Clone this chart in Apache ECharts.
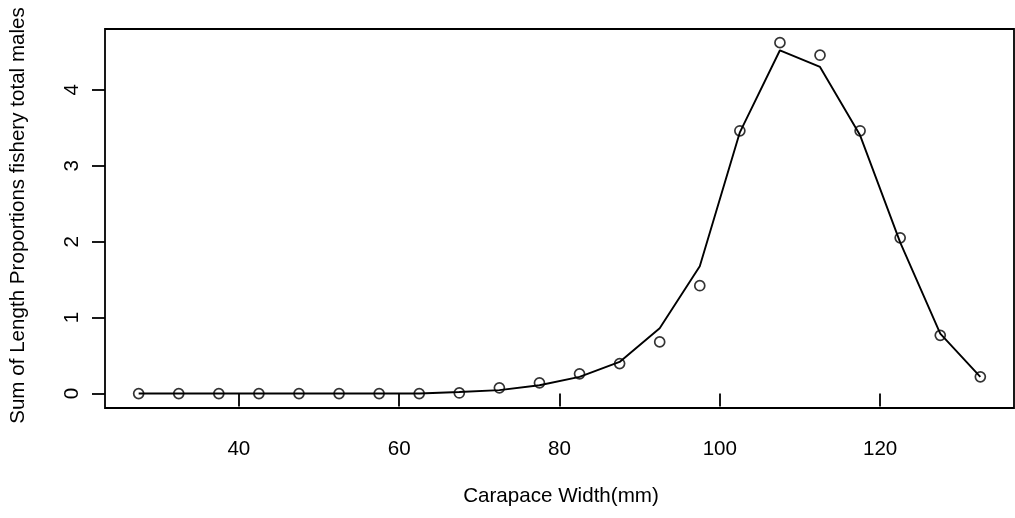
<!DOCTYPE html>
<html>
<head>
<meta charset="utf-8">
<script src="https://cdn.jsdelivr.net/npm/echarts@6/dist/echarts.min.js"></script>
<style>
html,body{margin:0;padding:0;background:#fff;}
#chart{width:1015px;height:518px;}
</style>
</head>
<body>
<div id="chart"></div>
<script>
// Carapace width bins (mm)
var widths = [27.5, 32.5, 37.5, 42.5, 47.5, 52.5, 57.5, 62.5, 67.5, 72.5, 77.5,
              82.5, 87.5, 92.5, 97.5, 102.5, 107.5, 112.5, 117.5, 122.5, 127.5, 132.5];
// Observed (circles)
var observed = [0, 0, 0, 0, 0, 0, 0, 0, 0.008, 0.075, 0.14,
                0.26, 0.395, 0.68, 1.42, 3.46, 4.62, 4.455, 3.46, 2.05, 0.767, 0.22];
// Predicted (line)
var predicted = [0, 0, 0, 0, 0, 0, 0, 0, 0.02, 0.045, 0.11,
                 0.22, 0.416, 0.86, 1.675, 3.44, 4.52, 4.30, 3.40, 1.99, 0.79, 0.22];
var xTicks = [40, 60, 80, 100, 120];
var yTicks = [0, 1, 2, 3, 4];
var xTitle = 'Carapace Width(mm)';
var yTitle = 'Sum of Length Proportions fishery total males';

var FONT = '"Liberation Sans", Arial, Helvetica, sans-serif';
var FS = 20.6;

var chart = echarts.init(document.getElementById('chart'), null, {renderer: 'canvas'});
var obsData = widths.map(function (w, i) { return [w, observed[i]]; });
var predData = widths.map(function (w, i) { return [w, predicted[i]]; });

chart.setOption({
  animation: false,
  backgroundColor: '#fff',
  grid: {
    left: 105, top: 29, right: 1, bottom: 110,
    show: true, borderColor: '#000', borderWidth: 1.8, backgroundColor: 'transparent'
  },
  xAxis: {
    type: 'value', min: 23.3, max: 136.7,
    axisLine: {show: false},
    splitLine: {show: false},
    axisTick: {show: true, customValues: xTicks, length: 13, inside: false,
               lineStyle: {color: '#000', width: 1.8}},
    axisLabel: {customValues: xTicks, fontSize: FS, fontFamily: FONT, color: '#000', margin: 31}
  },
  yAxis: {
    type: 'value', min: -0.19, max: 4.80,
    axisLine: {show: false},
    splitLine: {show: false},
    axisTick: {show: true, customValues: yTicks, length: 13, inside: false,
               lineStyle: {color: '#000', width: 1.8}},
    axisLabel: {customValues: yTicks, fontSize: FS, fontFamily: FONT, color: '#000',
                rotate: 90, margin: 22}
  },
  graphic: [
    {type: 'text', x: 561, y: 496,
     style: {text: xTitle, font: FS + 'px ' + FONT, fill: '#000', align: 'center', verticalAlign: 'middle'}},
    {type: 'text', x: 18, y: 215.5, rotation: Math.PI / 2,
     style: {text: yTitle, font: FS + 'px ' + FONT, fill: '#000', align: 'center', verticalAlign: 'middle'}}
  ],
  series: [
    {type: 'line', data: predData, symbol: 'none', z: 2,
     lineStyle: {color: '#000', width: 1.9}},
    {type: 'scatter', data: obsData, symbol: 'circle', symbolSize: 10, z: 3,
     itemStyle: {color: 'rgba(0,0,0,0)', borderColor: '#000', borderWidth: 1.7}}
  ]
});
</script>
</body>
</html>
